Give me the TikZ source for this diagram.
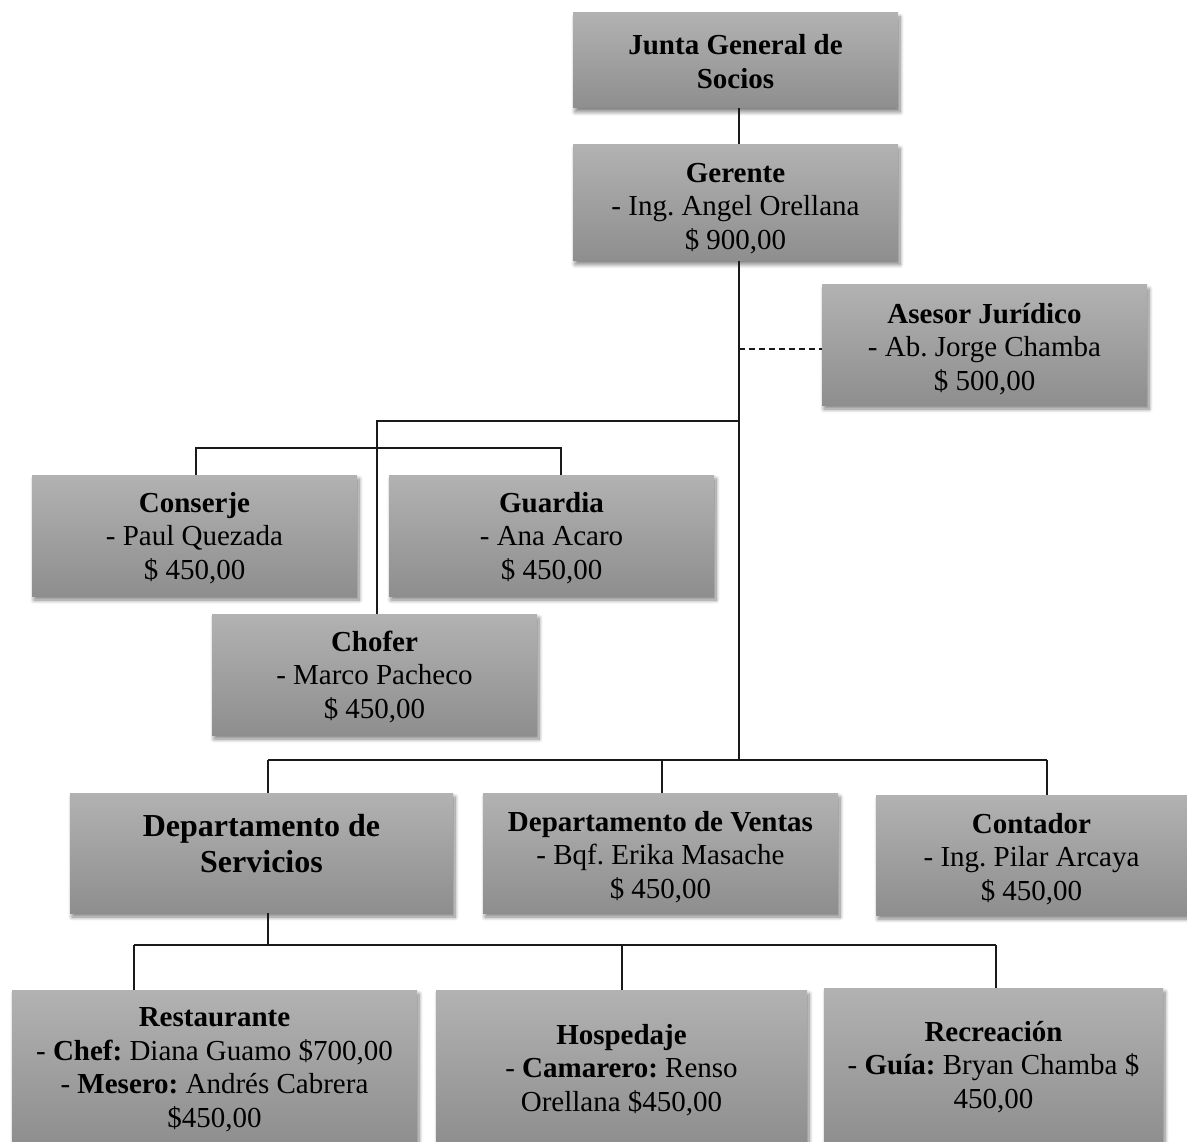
\documentclass[tikz,border=0pt]{standalone}
\usepackage{fontspec}
\setmainfont{Liberation Serif}
\frenchspacing
\usetikzlibrary{shadows.blur}

\definecolor{boxtop}{HTML}{B2B2B2}
\definecolor{boxbottom}{HTML}{8E8E8E}
\definecolor{linkcol}{HTML}{1A1A1A}

% centred block of lines; extra room on top lowers it inside its box by #1
\newlength\orgdrop
\newcommand\orgtext[2][3pt]{\setlength\orgdrop{#1}%
  \raisebox{0pt}[\dimexpr\height+2\orgdrop\relax][\depth]{\begin{tabular}{@{}c@{}}#2\end{tabular}}}

\tikzset{
  orgbox/.style={rectangle, inner sep=0pt,
    top color=boxtop, bottom color=boxbottom, draw=none,
    font=\fontsize{29}{33.5}\selectfont,
    blur shadow={shadow xshift=2pt, shadow yshift=-4pt,
      shadow blur radius=4pt, shadow blur steps=8, shadow opacity=50}},
  link/.style={draw=linkcol, line width=1.3pt},
  dashlink/.style={link, line width=1.5pt, dash pattern=on 6pt off 4pt}
}

\begin{document}
\begin{tikzpicture}[x=1pt, y=-1pt]
\useasboundingbox (0,0) rectangle (1187,1142);

% ---- boxes ----
\node[orgbox, minimum width=325pt, minimum height=95pt] (junta) at (735.5,60.5)
  {\orgtext[4.5pt]{\textbf{Junta General de}\\\textbf{Socios}}};
\node[orgbox, minimum width=325pt, minimum height=116pt] (gerente) at (735.5,202.5)
  {\orgtext[6.5pt]{\textbf{Gerente}\\- Ing. Angel Orellana\\\$ 900,00}};
\node[orgbox, minimum width=325pt, minimum height=120pt] (asesor) at (984.5,345)
  {\orgtext[5pt]{\textbf{Asesor Jurídico}\\- Ab. Jorge Chamba\\\$ 500,00}};
\node[orgbox, minimum width=325pt, minimum height=121pt] (conserje) at (194.5,535.5)
  {\orgtext[3.5pt]{\textbf{Conserje}\\- Paul Quezada\\\$ 450,00}};
\node[orgbox, minimum width=325pt, minimum height=121pt] (guardia) at (551.5,535.5)
  {\orgtext[3.5pt]{\textbf{Guardia}\\- Ana Acaro\\\$ 450,00}};
\node[orgbox, minimum width=325pt, minimum height=121pt] (chofer) at (374.5,674.5)
  {\orgtext[3.5pt]{\textbf{Chofer}\\- Marco Pacheco\\\$ 450,00}};
\node[orgbox, minimum width=383pt, minimum height=120pt,
  label={[font=\fontsize{32}{36}\selectfont\bfseries, align=center, yshift=9pt]center:{Departamento de\\Servicios}}]
  (servicios) at (261.5,853) {};
\node[orgbox, minimum width=355pt, minimum height=120pt] (ventas) at (660.5,853)
  {\orgtext[5pt]{\textbf{Departamento de Ventas}\\- Bqf. Erika Masache\\\$ 450,00}};
\node[orgbox, minimum width=311pt, minimum height=120pt] (contador) at (1031.5,855)
  {\orgtext[5pt]{\textbf{Contador}\\- Ing. Pilar Arcaya\\\$ 450,00}};
\node[orgbox, minimum width=405pt, minimum height=155pt] (restaurante) at (214.5,1067.5)
  {\orgtext[3pt]{\textbf{Restaurante}\\- \textbf{Chef:} Diana Guamo \$700,00\\- \textbf{Mesero:} Andrés Cabrera\\\$450,00}};
\node[orgbox, minimum width=371pt, minimum height=155pt] (hospedaje) at (621.5,1067.5)
  {\orgtext[3.5pt]{\textbf{Hospedaje}\\- \textbf{Camarero:} Renso\\Orellana \$450,00}};
\node[orgbox, minimum width=339pt, minimum height=157pt] (recreacion) at (993.5,1066.5)
  {\orgtext[1.5pt]{\textbf{Recreación}\\- \textbf{Guía:} Bryan Chamba \$\\450,00}};

% ---- junction points of the connector lines ----
\coordinate (trunk) at (739,0);
\coordinate (advisor) at (822,349);
\coordinate (staffT) at (739,421);
\coordinate (staffL) at (377,421);
\coordinate (pairL) at (196,448);
\coordinate (pairR) at (561,448);
\coordinate (deptBus) at (739,760);
\coordinate (deptL) at (268,760);
\coordinate (deptM) at (662,760);
\coordinate (deptR) at (1047,760);
\coordinate (servBus) at (268,945);
\coordinate (servL) at (134,945);
\coordinate (servM) at (622,945);
\coordinate (servR) at (996,945);

% ---- connectors ----
\draw[link] (junta.south -| trunk) -- (gerente.north -| trunk);
\draw[link] (gerente.south -| trunk) -- (deptBus);
\draw[dashlink] (advisor -| trunk) -- (asesor.west |- advisor);
\draw[link] (staffT) -- (staffL) -- (staffL |- chofer.north);
\draw[link] (pairL |- conserje.north) -- (pairL) -- (pairR) -- (pairR |- guardia.north);
\draw[link] (deptL) -- (deptR);
\draw[link] (deptL) -- (deptL |- servicios.north);
\draw[link] (deptM) -- (deptM |- ventas.north);
\draw[link] (deptR) -- (deptR |- contador.north);
\draw[link] (servicios.south -| servBus) -- (servBus);
\draw[link] (servL) -- (servR);
\draw[link] (servL) -- (servL |- restaurante.north);
\draw[link] (servM) -- (servM |- hospedaje.north);
\draw[link] (servR) -- (servR |- recreacion.north);
\end{tikzpicture}
\end{document}
